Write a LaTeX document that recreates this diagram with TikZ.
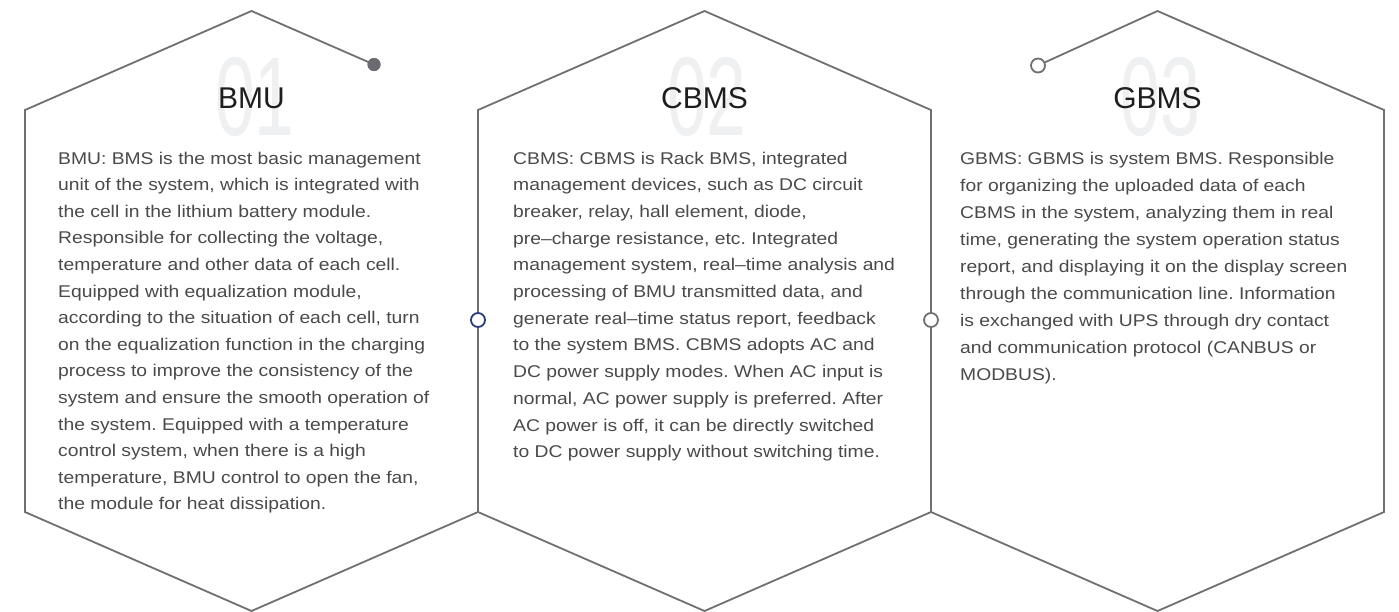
\documentclass[tikz,border=0pt]{standalone}
\usepackage{fontspec}
\setmainfont{Liberation Sans}
\newfontfamily\bodyfont{Liberation Sans}[FakeStretch=1.135]
\frenchspacing
\definecolor{edge}{HTML}{707070}
\definecolor{bodytxt}{HTML}{4A4A4A}
\definecolor{titletxt}{HTML}{1E1E1E}
\definecolor{bignum}{HTML}{EEF0F2}
\definecolor{navy}{HTML}{2B3A7A}
\definecolor{dotfill}{HTML}{6A6A70}
\begin{document}
\begin{tikzpicture}[x=1pt,y=-1pt,
  hexline/.style={draw=edge,line width=1.8pt,line join=miter},
  ringnode/.style={circle,draw=#1,line width=1.8pt,fill=white,minimum size=14pt,inner sep=0pt},
  dotnode/.style={circle,fill=dotfill,minimum size=13pt,inner sep=0pt},
  numnode/.style={text=bignum,font=\fontsize{112}{112}\selectfont,xscale=0.64,anchor=base,inner sep=0pt},
  titlenode/.style={text=titletxt,font=\fontsize{30}{30}\selectfont,anchor=base,inner sep=0pt},
  bodynode/.style={text=bodytxt,anchor=base west,inner sep=0pt}]
\useasboundingbox (0,0) rectangle (1399,611);
\fill[white] (0,0) rectangle (1399,611);
% hexagon corners
\coordinate (h1t) at (251.5,11);
\coordinate (h1ul) at (25,110);
\coordinate (h1ll) at (25,512);
\coordinate (h1b) at (251.5,611);
\coordinate (h1lr) at (478,512);
\coordinate (h1ur) at (478,110);
\coordinate (h2t) at (704.5,11);
\coordinate (h2ur) at (931,110);
\coordinate (h2lr) at (931,512);
\coordinate (h2b) at (704.5,611);
\coordinate (h3t) at (1157.5,11);
\coordinate (h3ur) at (1384,110);
\coordinate (h3lr) at (1384,512);
\coordinate (h3b) at (1157.5,611);
% big numbers
\node[numnode] (n1) at (255,135) {01};
\node[numnode] (n2) at (707,135) {02};
\node[numnode] (n3) at (1160,135) {03};
% titles
\node[titlenode] (t1) at (251.5,108) {BMU};
\node[titlenode] (t2) at (704.5,108) {CBMS};
\node[titlenode] (t3) at (1157.5,108) {GBMS};
% decorative end nodes
\node[dotnode] (dot1) at (374,64.5) {};
\node[ringnode=edge] (ring3) at (1038,65.5) {};
% hexagon outlines
\draw[hexline] (dot1.center) -- (h1t) -- (h1ul) -- (h1ll) -- (h1b) -- (h1lr) -- (h1ur) -- (h2t) -- (h2ur) -- (h2lr) -- (h2b) -- (h1lr);
\draw[hexline] (ring3) -- (h3t) -- (h3ur) -- (h3lr) -- (h3b) -- (h2lr);
\node[dotnode] (dot1b) at (dot1) {};
% side rings
\node[ringnode=navy] (ringA) at (478,320) {};
\node[ringnode=edge] (ringB) at (931,320) {};
% body texts
\node[bodynode] (b1) at (58,164) {\parbox[t]{420pt}{\bodyfont\fontsize{17}{26.6}\selectfont\raggedright
BMU: BMS is the most basic management\\
unit of the system, which is integrated with\\
the cell in the lithium battery module.\\
Responsible for collecting the voltage,\\
temperature and other data of each cell.\\
Equipped with equalization module,\\
according to the situation of each cell, turn\\
on the equalization function in the charging\\
process to improve the consistency of the\\
system and ensure the smooth operation of\\
the system. Equipped with a temperature\\
control system, when there is a high\\
temperature, BMU control to open the fan,\\
the module for heat dissipation.}};
\node[bodynode] (b2) at (513,164) {\parbox[t]{420pt}{\bodyfont\fontsize{17}{26.7}\selectfont\raggedright
CBMS: CBMS is Rack BMS, integrated\\
management devices, such as DC circuit\\
breaker, relay, hall element, diode,\\
pre–charge resistance, etc. Integrated\\
management system, real–time analysis and\\
processing of BMU transmitted data, and\\
generate real–time status report, feedback\\
to the system BMS. CBMS adopts AC and\\
DC power supply modes. When AC input is\\
normal, AC power supply is preferred. After\\
AC power is off, it can be directly switched\\
to DC power supply without switching time.}};
\node[bodynode] (b3) at (960,164) {\parbox[t]{420pt}{\bodyfont\fontsize{17}{27}\selectfont\raggedright
GBMS: GBMS is system BMS. Responsible\\
for organizing the uploaded data of each\\
CBMS in the system, analyzing them in real\\
time, generating the system operation status\\
report, and displaying it on the display screen\\
through the communication line. Information\\
is exchanged with UPS through dry contact\\
and communication protocol (CANBUS or\\
MODBUS).}};
\end{tikzpicture}
\end{document}
